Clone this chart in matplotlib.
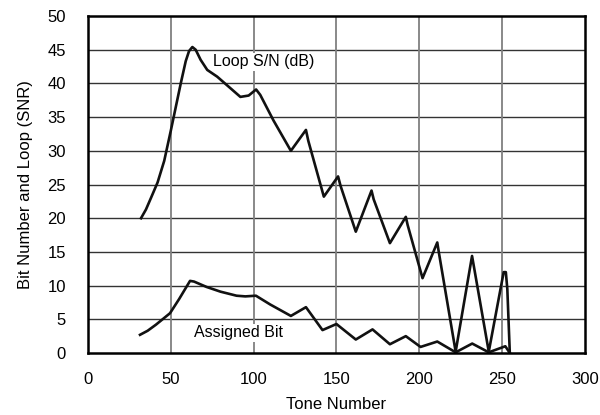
import matplotlib
matplotlib.use("Agg")
import matplotlib.pyplot as plt

plt.rcParams['font.family'] = ['Liberation Sans', 'DejaVu Sans']

# Loop S/N (dB) curve
snr_tone = [32, 35, 38, 42, 46, 50, 53, 56, 59, 61, 63, 65, 68, 72, 78, 85, 92,
            97, 101.5, 104, 112, 122.5, 131.6, 133, 142.4, 151, 152.5, 161.7,
            171.2, 172.5, 182.3, 191.9, 193, 202, 210.9, 211.8, 222, 231.9, 242,
            251, 252.3, 253.2, 254.7]
snr_db = [20, 21.3, 23, 25.3, 28.5, 33, 36.5, 40, 43.3, 44.8, 45.4, 45, 43.5, 42,
          41, 39.5, 38, 38.2, 39.1, 38.3, 34.5, 30, 33.1, 31.5, 23.2, 26.2, 24.8,
          18, 24.1, 22.8, 16.3, 20.2, 19, 11.1, 16.4, 15, 0.2, 14.4, 0.2,
          12.0, 12.0, 9.5, 0]

# Assigned bit curve
bit_tone = [31.4, 36, 41, 45, 49.5, 55, 61.6, 64, 71.6, 80, 89.7, 95, 101.4, 110,
            122.5, 131.6, 141.6, 150, 161.7, 171.8, 182.3, 191.9, 200.8, 210.9,
            222, 232, 242, 252, 254.7]
bit_val = [2.7, 3.3, 4.2, 5.0, 5.9, 8.0, 10.7, 10.6, 9.8, 9.1, 8.5, 8.4, 8.5, 7.2,
           5.5, 6.8, 3.4, 4.3, 2.0, 3.5, 1.3, 2.5, 0.9, 1.7, 0.1, 1.4, 0.1, 1.0, 0]

fig = plt.figure(figsize=(6, 4.15), dpi=100)
ax = fig.add_axes([0.1467, 0.1494, 0.828, 0.812])

for y in range(5, 50, 5):
    ax.axhline(y, color="#333333", lw=1.0, zorder=1)
for x in range(50, 300, 50):
    ax.axvline(x, color="#808080", lw=1.3, zorder=1)

ax.plot(snr_tone, snr_db, color="#111111", lw=1.9, zorder=3)
ax.plot(bit_tone, bit_val, color="#111111", lw=1.9, zorder=3)

ax.text(75.5, 43.2, "Loop S/N (dB)", fontsize=11.5, va="center", ha="left",
        bbox=dict(facecolor="white", edgecolor="none", pad=1), zorder=4)
ax.text(64, 3.0, "Assigned Bit", fontsize=11.5, va="center", ha="left",
        bbox=dict(facecolor="white", edgecolor="none", pad=1), zorder=4)

ax.set_xlim(0, 300)
ax.set_ylim(0, 50)
ax.set_xticks(range(0, 301, 50))
ax.set_yticks(range(0, 51, 5))
ax.tick_params(length=0, labelsize=12, pad=14)
ax.tick_params(axis="y", pad=16)
for s in ax.spines.values():
    s.set_linewidth(1.8)
    s.set_zorder(5)

ax.set_xlabel("Tone Number", fontsize=12, labelpad=7)
ax.set_ylabel("Bit Number and Loop (SNR)", fontsize=12, labelpad=10)

fig.savefig("out.png", dpi=100)
plt.close()
